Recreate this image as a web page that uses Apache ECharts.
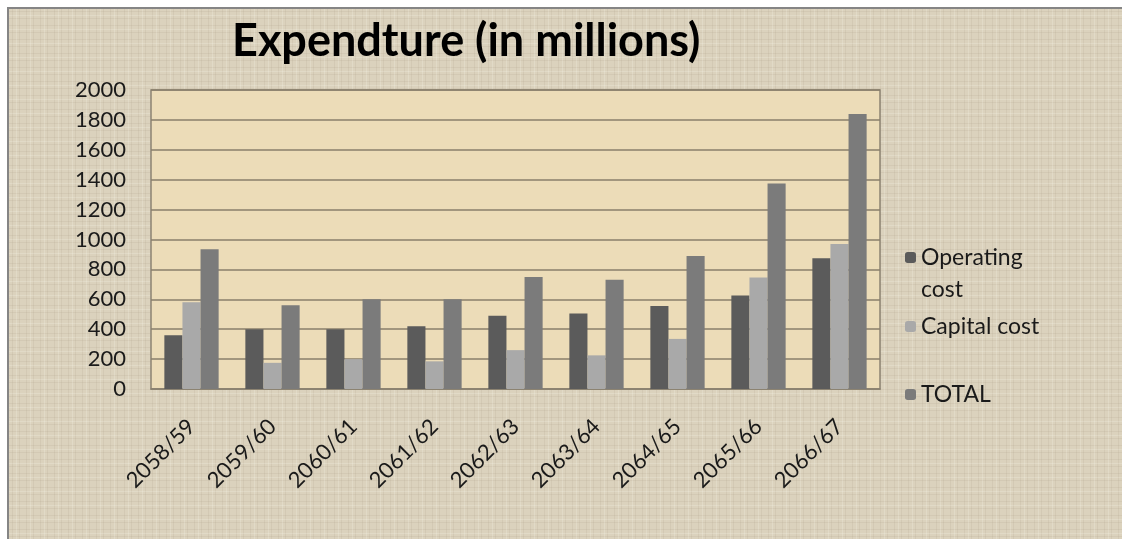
<!DOCTYPE html>
<html>
<head>
<meta charset="utf-8">
<script src="https://cdn.jsdelivr.net/npm/echarts@6/dist/echarts.min.js"></script>
<style>
html,body{margin:0;padding:0;background:#ffffff;}
#chart{position:absolute;left:0;top:0;width:1122px;height:539px;}
</style>
</head>
<body>
<div id="chart"></div>
<script>
var categories = ['2058/59','2059/60','2060/61','2061/62','2062/63','2063/64','2064/65','2065/66','2066/67'];
var operatingCost = [360, 400, 400, 420, 490, 505, 555, 625, 875];
var capitalCost = [580, 175, 200, 185, 260, 225, 335, 745, 970];
var totalCost = [935, 560, 600, 600, 750, 730, 890, 1375, 1840];
var yTicks = [0, 200, 400, 600, 800, 1000, 1200, 1400, 1600, 1800, 2000];

// linen-like background texture (decoration only)
function linen(){
  var c = document.createElement('canvas');
  c.width = 14; c.height = 14;
  var g = c.getContext('2d');
  g.fillStyle = '#dbd2bd'; g.fillRect(0,0,14,14);
  g.fillStyle = 'rgba(160,150,125,0.13)';
  g.fillRect(0,3,14,1); g.fillRect(0,10,14,1);
  g.fillRect(4,0,1,14); g.fillRect(11,0,1,14);
  g.fillStyle = 'rgba(255,255,245,0.18)';
  g.fillRect(0,7,14,1); g.fillRect(8,0,1,14);
  return c;
}

var chart = echarts.init(document.getElementById('chart'), null, {renderer:'canvas'});
var FONT = 'Lato';
chart.setOption({
  backgroundColor: '#ffffff',
  animation: false,
  graphic: [
    {type:'rect', left:7, top:7, z:-10, silent:true,
     shape:{width:1115, height:532},
     style:{fill:{image:linen(), repeat:'repeat'}, stroke:'#858585', lineWidth:2}},
    {type:'text', left:921, top:278, z:10,
     style:{text:'cost', fill:'#1a1a1a', font:'23px Lato'}}
  ],
  title: {
    text: 'Expendture (in millions)',
    left: 227, top: 14,
    textStyle: {fontFamily: FONT, fontWeight: 'bold', fontSize: 45, color: '#000000'}
  },
  legend: [
    {data:['Operating cost'], left:905, top:246, padding:0, orient:'vertical', itemWidth:11, itemHeight:11,
     formatter:function(){return 'Operating';}, textStyle:{fontFamily:FONT, fontSize:23, color:'#1a1a1a'}},
    {data:['Capital cost'], left:905, top:315, padding:0, orient:'vertical', itemWidth:11, itemHeight:11,
     textStyle:{fontFamily:FONT, fontSize:23, color:'#1a1a1a'}},
    {data:['TOTAL'], left:905, top:383, padding:0, orient:'vertical', itemWidth:11, itemHeight:11,
     textStyle:{fontFamily:FONT, fontSize:23, color:'#1a1a1a'}}
  ],
  grid: {
    left: 151, right: 242, top: 90, bottom: 150,
    show: true, backgroundColor: '#ecdcb8', borderColor: '#8c8372', borderWidth: 1.5
  },
  xAxis: {
    type: 'category',
    data: categories,
    axisTick: {show:false},
    axisLine: {lineStyle:{color:'#8c8372', width:1.5}},
    axisLabel: {rotate:45, margin:34, fontFamily:FONT, fontSize:22, color:'#1a1a1a', interval:0}
  },
  yAxis: {
    type: 'value',
    min: 0, max: 2000, interval: 200,
    axisLine: {show:false},
    axisTick: {show:false},
    splitLine: {lineStyle:{color:'#8a7f6b', width:1.5}},
    axisLabel: {margin:25, fontFamily:FONT, fontSize:22, color:'#1a1a1a',
      formatter:function(v){ return yTicks.indexOf(v) >= 0 ? String(v) : ''; }}
  },
  series: [
    {name:'Operating cost', type:'bar', data:operatingCost, barGap:'0%', barCategoryGap:'33%',
     itemStyle:{color:'#5b5b5b'}},
    {name:'Capital cost', type:'bar', data:capitalCost, barGap:'0%', barCategoryGap:'33%',
     itemStyle:{color:'#a9a9a9'}},
    {name:'TOTAL', type:'bar', data:totalCost, barGap:'0%', barCategoryGap:'33%',
     itemStyle:{color:'#7b7b7b'}}
  ]
});
</script>
</body>
</html>
